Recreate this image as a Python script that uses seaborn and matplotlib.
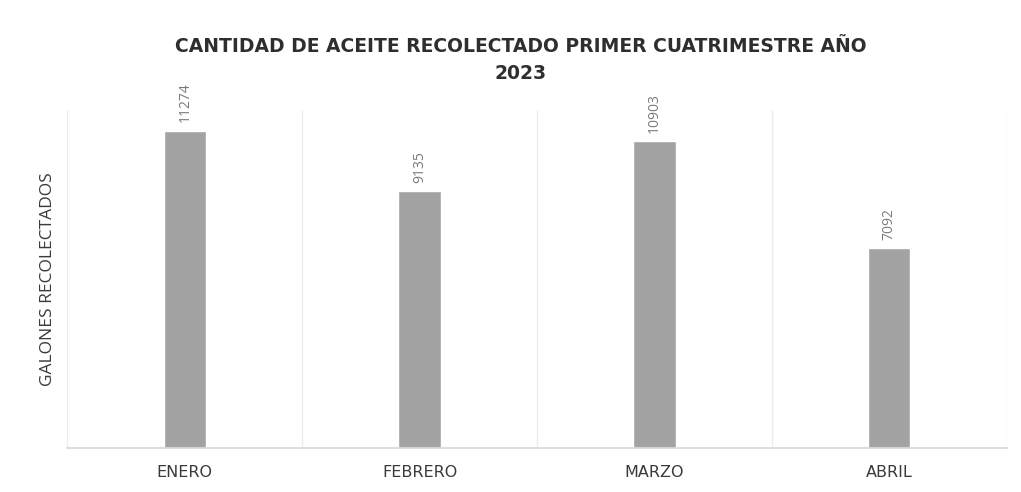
import pandas as pd
import matplotlib.pyplot as plt
import seaborn as sns

sns.set_theme(style="white")
plt.rcParams['font.family'] = ['Open Sans', 'DejaVu Sans']

meses   = ['ENERO', 'FEBRERO', 'MARZO', 'ABRIL']
galones = [11274, 9135, 10903, 7092]

df = pd.DataFrame({'mes': meses, 'galones': galones})

fig, ax = plt.subplots(figsize=(10.21, 4.92), dpi=100)
fig.subplots_adjust(left=0.066, right=0.986, bottom=0.089, top=0.776)

sns.barplot(data=df, x='mes', y='galones', color='#a3a3a3', width=0.18,
            saturation=1, ax=ax)

# value labels, rotated like the original
for c in ax.containers:
    ax.bar_label(c, labels=[str(v) for v in galones], rotation=90,
                 padding=6, fontsize=10, color='#7a7a7a')

ax.set_ylim(0, 12000)
ax.set_xlim(-0.5, 3.5)
ax.set_yticks([])
ax.set_xticks(range(len(meses)))
ax.set_xticks([0.5, 1.5, 2.5, 3.5, -0.5], minor=True)
ax.xaxis.grid(True, which='minor', color='#ececec', lw=1)
ax.tick_params(axis='x', which='both', length=0, labelsize=11.5,
               labelcolor='#3a3a3a', pad=12)
for t in ax.get_xticklabels():
    t.set_family(['DejaVu Sans'])
ax.set_xlabel('')
ax.set_ylabel('GALONES RECOLECTADOS', fontsize=12.5, color='#3a3a3a', labelpad=8)

for s in ['top', 'right', 'left']:
    ax.spines[s].set_visible(False)
ax.spines['bottom'].set_color('#d9d9d9')

fig.text(0.51, 0.925, 'CANTIDAD DE ACEITE RECOLECTADO PRIMER CUATRIMESTRE AÑO\n2023',
         ha='center', va='top', fontsize=13.5, fontweight='bold',
         color='#2e2e2e', linespacing=1.55, family=['DejaVu Sans'])

plt.savefig('out.png', dpi=100)
